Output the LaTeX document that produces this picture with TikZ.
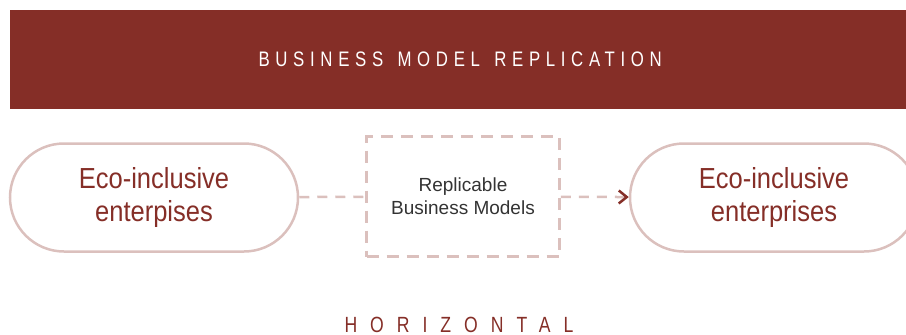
\documentclass[tikz,border=0pt]{standalone}
\usepackage{fontspec}
\setmainfont{Liberation Sans}
\newfontfamily\ecofont[FakeStretch=0.88]{Liberation Sans}
\newfontfamily\bannerfont[FakeStretch=0.8,LetterSpace=27]{Liberation Sans}
\newfontfamily\axisfont[FakeStretch=0.8,LetterSpace=59]{Liberation Sans}
\definecolor{BrickRed}{HTML}{852E27}
\definecolor{PaleRose}{HTML}{DBC0BD}
\definecolor{InkGrey}{HTML}{333333}
\usetikzlibrary{arrows.meta,positioning}
\tikzset{
  enterprise/.style={draw=PaleRose,line width=2.5pt,rounded corners=54pt,
    minimum width=288pt,minimum height=108pt,text=BrickRed,align=center,
    font=\ecofont\fontsize{29}{33}\selectfont},
  flow/.style={draw=PaleRose,line width=2.5pt,dash pattern=on 10pt off 8pt}
}

\begin{document}
\begin{tikzpicture}[x=1pt,y=-1pt]
  \useasboundingbox (0,0) rectangle (906,335);
  \clip (0,0) rectangle (906,335);

  % banner
  \node[fill=BrickRed,anchor=north west,text=white,
        minimum width=910pt,minimum height=99pt,
        font=\bannerfont\fontsize{21}{21}\selectfont] (banner) at (10,10)
        {\hspace{-10pt}BUSINESS\hspace{4pt} MODEL\hspace{4pt} REPLICATION};

  % enterprises and models
  \node[enterprise] (srcent) at (154,197.5) {Eco-inclusive\\enterpises};
  \node[draw=PaleRose,line width=2.5pt,dash pattern=on 12pt off 8pt,
        minimum width=193pt,minimum height=120pt,align=center,text=InkGrey,
        font=\fontsize{19}{23}\selectfont] (models) at (463,196.5)
        {Replicable\\Business Models};
  \node[enterprise] (dstent) at (774,197.5) {Eco-inclusive\\enterprises};

  \draw[flow] (srcent) -- (models);
  \draw[flow,-{Straight Barb[color=BrickRed,length=8pt,width=13pt]}]
        (models) -- (dstent);

  \node[text=BrickRed,font=\axisfont\fontsize{22}{22}\selectfont,anchor=base]
        (axis) at (459,332) {HORIZONTAL};
\end{tikzpicture}
\end{document}
